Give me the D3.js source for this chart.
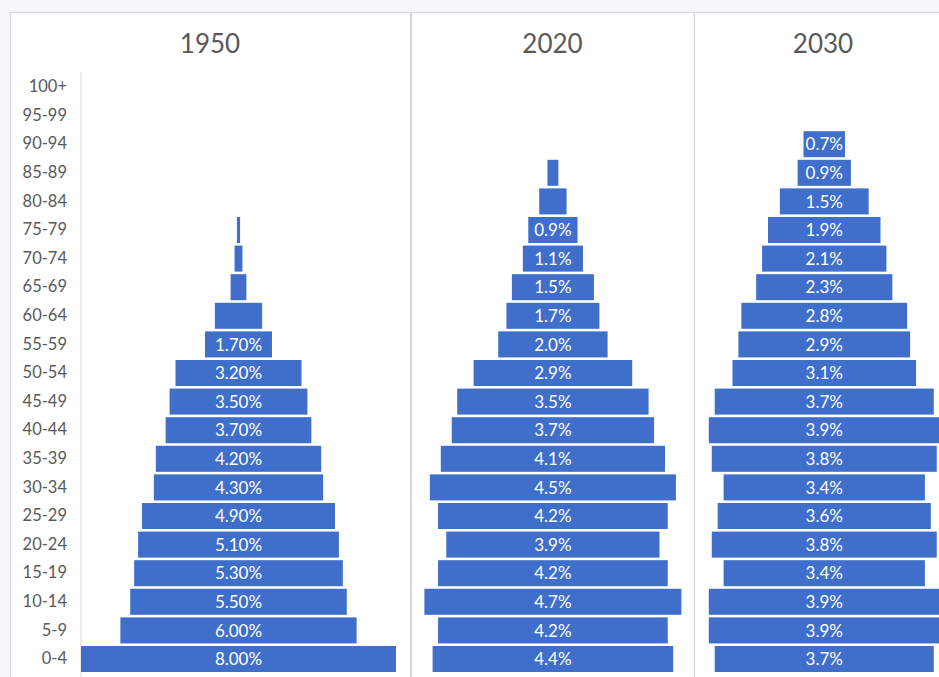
<!DOCTYPE html>
<html>
<head>
<meta charset="utf-8">
<script src="https://cdn.jsdelivr.net/npm/d3@7/dist/d3.min.js"></script>
<style>
  html, body { margin: 0; padding: 0; background: #f4f8f9; overflow: hidden; }
  svg { display: block; }
</style>
</head>
<body>
<svg id="chart" width="939" height="677"></svg>
<script>
// ---- data ----
const ages = ["0-4","5-9","10-14","15-19","20-24","25-29","30-34","35-39","40-44","45-49",
              "50-54","55-59","60-64","65-69","70-74","75-79","80-84","85-89","90-94","95-99","100+"];
const years = ["1950", "2020", "2030"];
const v1950 = [8.0, 6.0, 5.5, 5.3, 5.1, 4.9, 4.3, 4.2, 3.7, 3.5, 3.2, 1.7, 1.2, 0.4, 0.2, 0.08, 0, 0, 0, 0, 0];
const v2020 = [4.4, 4.2, 4.7, 4.2, 3.9, 4.2, 4.5, 4.1, 3.7, 3.5, 2.9, 2.0, 1.7, 1.5, 1.1, 0.9, 0.5, 0.2, 0, 0, 0];
const v2030 = [3.7, 3.9, 3.9, 3.4, 3.8, 3.6, 3.4, 3.8, 3.9, 3.7, 3.1, 2.9, 2.8, 2.3, 2.1, 1.9, 1.5, 0.9, 0.7, 0, 0];
// smallest value that still carries a data label in each panel
const labelMin = [1.5, 0.8, 0.5];
const labelFormat = [".2f", ".1f", ".1f"];

// ---- layout ----
const svg = d3.select("#chart");
const W = 939, H = 677;
const panels = [
  { year: years[0], values: v1950, box: [10, 410], plot: [81, 396] },
  { year: years[1], values: v2020, box: [411, 694], plot: [424.4, 681.4] },
  { year: years[2], values: v2030, box: [694, 952], plot: [708.8, 939.7] }
];
panels.forEach((p, i) => { p.min = labelMin[i]; p.fmt = d3.format(labelFormat[i]); });

const y = d3.scaleBand()
  .domain(ages.slice().reverse())
  .range([72.7, 673.3])
  .paddingInner(0.09)
  .paddingOuter(0.045);

const barColor = "#3f6fca";
const textGray = "#595959";
const font = "Lato, 'Open Sans', sans-serif";

panels.forEach((p, i) => {
  const g = svg.append("g");
  // panel frame
  g.append("rect")
    .attr("x", p.box[0] + 0.5).attr("y", 12.5)
    .attr("width", p.box[1] - p.box[0]).attr("height", H + 20)
    .attr("fill", "#ffffff").attr("stroke", "#d6d9db").attr("stroke-width", 1.2);

  const half = d3.max(p.values) / 2;
  const x = d3.scaleLinear().domain([-half, half]).range(p.plot);

  // title
  g.append("text")
    .attr("x", (p.box[0] + p.box[1]) / 2).attr("y", 53)
    .attr("text-anchor", "middle")
    .attr("font-family", font).attr("font-size", 26)
    .attr("fill", textGray)
    .text(p.year);

  const data = ages.map((a, j) => ({ age: a, v: p.values[j] }));

  if (i === 0) {
    const axis = d3.axisLeft(y).tickSize(0).tickPadding(14);
    const ag = g.append("g").attr("transform", `translate(${p.plot[0]},0)`).call(axis);
    ag.select(".domain").attr("stroke", "#d9d9d9").attr("d", `M0,72V${H}`);
    ag.selectAll("text")
      .attr("font-family", font).attr("font-size", 16.5)
      .attr("fill", textGray);
  }

  g.selectAll("rect.bar").data(data.filter(d => d.v > 0)).join("rect")
    .attr("class", "bar")
    .attr("x", d => x(-d.v / 2))
    .attr("width", d => x(d.v / 2) - x(-d.v / 2))
    .attr("y", d => y(d.age))
    .attr("height", y.bandwidth())
    .attr("fill", barColor);

  g.selectAll("text.lab").data(data.filter(d => d.v >= p.min)).join("text")
    .attr("class", "lab")
    .attr("x", x(0))
    .attr("y", d => y(d.age) + y.bandwidth() / 2)
    .attr("dy", "0.36em")
    .attr("text-anchor", "middle")
    .attr("font-family", font).attr("font-size", 17)
    .attr("fill", "#ffffff")
    .text(d => p.fmt(d.v) + "%");
});
</script>
</body>
</html>
